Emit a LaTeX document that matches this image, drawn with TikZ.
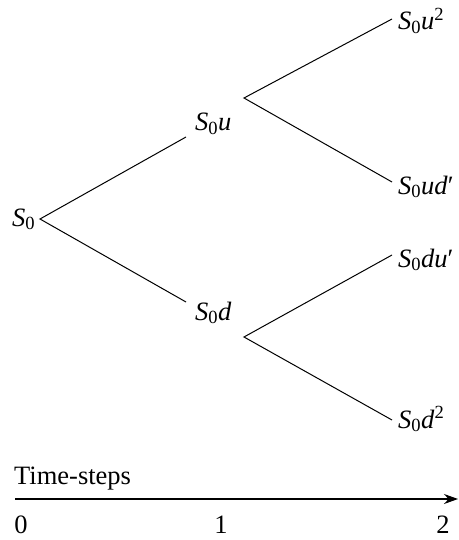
\documentclass[tikz,border=0pt]{standalone}
\usepackage{fontspec}
\setmainfont{Liberation Serif}
\usetikzlibrary{arrows.meta}
\newcommand{\lbl}[1]{\textit{S}\textsubscript{0}\textit{#1}}
\tikzset{
  branch/.style={line width=1pt},
  lab/.style={inner sep=0pt, font=\fontsize{26.5}{30}\selectfont},
  axis/.style={line width=1.1pt, -{Stealth[length=14pt,width=10pt]}}
}
\begin{document}
\begin{tikzpicture}[x=1pt,y=-1pt]
\useasboundingbox (0,0) rectangle (458,540);
% branch points
\coordinate (p0) at (40,219);
\coordinate (pu) at (186,137);
\coordinate (pd) at (186,302);
\coordinate (fu) at (244,98);
\coordinate (fd) at (244,337);
\coordinate (uu) at (392,19);
\coordinate (ud) at (392,182);
\coordinate (du) at (392,255);
\coordinate (dd) at (392,420);
% labels
\node[lab, anchor=base west] (s0) at (12,226) {\lbl{}};
\node[lab, anchor=base west] (s0u) at (195,131) {\lbl{u}};
\node[lab, anchor=base west] (s0d) at (195,320) {\lbl{d}};
\node[lab, anchor=base west] (s0uu) at (398,30) {\lbl{u}\textsuperscript{2}};
\node[lab, anchor=base west] (s0ud) at (398,194) {\lbl{ud}′};
\node[lab, anchor=base west] (s0du) at (398,267) {\lbl{du}′};
\node[lab, anchor=base west] (s0dd) at (398,428) {\lbl{d}\textsuperscript{2}};
% connectors
\draw[branch] (pu) -- (p0) -- (pd);
\draw[branch] (uu) -- (fu) -- (ud);
\draw[branch] (du) -- (fd) -- (dd);
% time axis
\node[lab, anchor=base west] (ts) at (14,484) {Time-steps};
\coordinate (a0) at (15,499);
\coordinate (a2) at (458,499);
\draw[axis] (a0) -- (a2);
\node[lab, anchor=base] (t0) at (21,533) {0};
\node[lab, anchor=base] (t1) at (221,533) {1};
\node[lab, anchor=base] (t2) at (443,533) {2};
\end{tikzpicture}
\end{document}
